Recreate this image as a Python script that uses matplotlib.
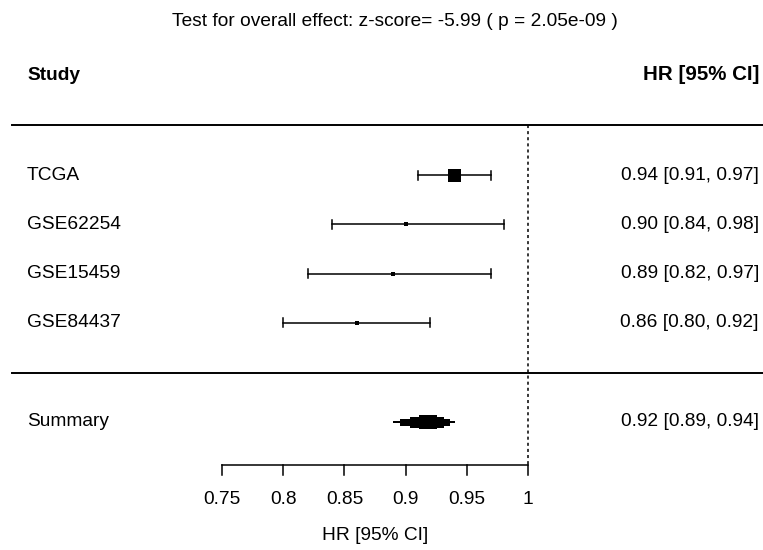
import numpy as np
import matplotlib.pyplot as plt
from matplotlib.patches import Rectangle

# Study-level hazard ratios with 95% confidence intervals
studies = ['TCGA', 'GSE62254', 'GSE15459', 'GSE84437']
hr = [0.94, 0.90, 0.89, 0.86]
ci_low = [0.91, 0.84, 0.82, 0.80]
ci_high = [0.97, 0.98, 0.97, 0.92]
weights = [0.70, 0.10, 0.08, 0.12]   # relative box size

summary_hr = 0.92
summary_low = 0.89
summary_high = 0.94

title = 'Test for overall effect: z-score= -5.99 ( p = 2.05e-09 )'
xticks = [0.75, 0.8, 0.85, 0.9, 0.95, 1]
xtick_labels = ['0.75', '0.8', '0.85', '0.9', '0.95', '1']

W, H = 763, 550
DPI = 100
FS = 13.8
plt.rcParams['font.family'] = ['Liberation Sans', 'DejaVu Sans']

fig = plt.figure(figsize=(W / DPI, H / DPI), dpi=DPI)
ax = fig.add_axes([0, 0, 1, 1])
ax.axis('off')

# x in HR units, y in pixel rows from the top
px_per_unit = 1224.0
x0 = 0.75 - 222 / px_per_unit
ax.set_xlim(x0, x0 + W / px_per_unit)
ax.set_ylim(H, 0)


def px(p):
    return x0 + p / px_per_unit


row_y = 175 + np.arange(len(studies)) * 49.3
sum_y = 422
axis_y = 465

# header
ax.text(px(395), 21, title, ha='center', va='center', fontsize=FS,
        family=['Liberation Sans Narrow', 'Liberation Sans'])
ax.text(px(27), 75, 'Study', ha='left', va='center', fontsize=FS, fontweight='bold')
ax.text(px(759), 75, 'HR [95% CI]', ha='right', va='center', fontsize=14.8, fontweight='bold')
ax.plot([px(12), px(763)], [125, 125], color='black', lw=1.4)
ax.plot([px(12), px(763)], [373, 373], color='black', lw=1.4)

# reference line at HR = 1
ax.plot([1, 1], [125, axis_y], color='black', lw=1.1, linestyle=(0, (2, 2)))

# individual studies
cap = 4.5
for y, name, m, lo, hi, w in zip(row_y, studies, hr, ci_low, ci_high, weights):
    ax.plot([lo, hi], [y, y], color='black', lw=1.1)
    ax.plot([lo, lo], [y - cap, y + cap], color='black', lw=1.1)
    ax.plot([hi, hi], [y - cap, y + cap], color='black', lw=1.1)
    side = 3 + 10 * w ** 1.5 / 0.70 ** 1.5 if w > 0.5 else 4
    ax.add_patch(Rectangle((m - side / 2 / px_per_unit, y - side / 2),
                           side / px_per_unit, side, color='black', lw=0))
    ax.text(px(27), y, name, ha='left', va='center', fontsize=FS)
    ax.text(px(759), y, f'{m:.2f} [{lo:.2f}, {hi:.2f}]',
            ha='right', va='center', fontsize=FS)

# stepped summary diamond
half = [(1.0, 1.0), (0.82, 3.5), (0.55, 5.5), (0.3, 7.0)]
for frac, h in half:
    lo = summary_hr - (summary_hr - summary_low) * frac
    hi = summary_hr + (summary_high - summary_hr) * frac
    ax.add_patch(Rectangle((lo, sum_y - h), hi - lo, 2 * h, color='black', lw=0))
ax.text(px(27), sum_y, 'Summary', ha='left', va='center', fontsize=FS)
ax.text(px(759), sum_y, f'{summary_hr:.2f} [{summary_low:.2f}, {summary_high:.2f}]',
        ha='right', va='center', fontsize=FS)

# bottom axis
ax.plot([xticks[0], xticks[-1]], [axis_y, axis_y], color='black', lw=1.1)
for t, lab in zip(xticks, xtick_labels):
    ax.plot([t, t], [axis_y, axis_y + 10], color='black', lw=1.1)
    ax.text(t, 499, lab, ha='center', va='center', fontsize=FS)
ax.text(np.mean([xticks[0], xticks[-1]]), 535, 'HR [95% CI]',
        ha='center', va='center', fontsize=FS)

fig.savefig('out.png', dpi=DPI, facecolor='white')
